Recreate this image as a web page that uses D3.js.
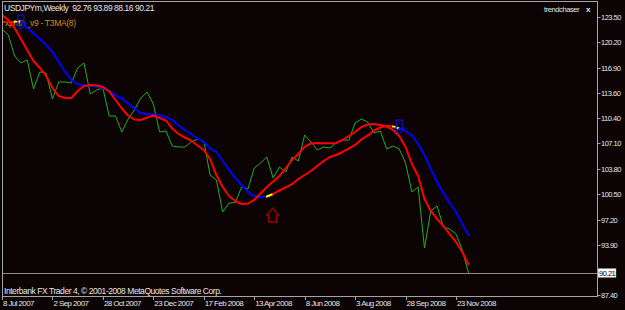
<!DOCTYPE html>
<html>
<head>
<meta charset="utf-8">
<script src="https://cdn.jsdelivr.net/npm/d3@7"></script>
<style>
  html, body { margin: 0; padding: 0; background: #0c0304; }
  text { font-family: "Liberation Sans", Arial, sans-serif; white-space: pre; }
</style>
</head>
<body>
<div id="chart"></div>
<script>
// weekly bars, first visible bar
var firstWeek = "2007-07-08";

// weekly close (green)
var closes = [
  121.94, 121.16, 118.44, 117.53, 117.92, 114.15, 116.36, 116.20, 112.85, 115.06,
  115.06, 114.93, 116.88, 117.53, 113.50, 114.02, 114.28, 110.64, 110.64, 108.57,
  110.25, 111.42, 112.98, 113.76, 112.20, 108.57, 108.70, 106.75, 106.62, 106.62,
  107.27, 107.66, 107.40, 102.98, 102.33, 98.18, 99.35, 99.40, 101.42, 101.16,
  103.89, 104.54, 105.32, 102.59, 104.02, 103.37, 105.32, 104.80, 108.18, 107.27,
  106.23, 106.62, 106.49, 107.14, 107.53, 107.50, 109.74, 110.25, 109.86, 108.44,
  108.70, 106.36, 106.75, 106.36, 104.54, 100.78, 101.42, 93.50, 98.31, 98.96,
  96.23, 95.97, 95.32, 93.24, 90.21
];

// fast T3MA (red)
var fastMA = [
  123.76, 123.11, 122.07, 120.64, 119.21, 117.79, 116.88, 115.84, 114.28, 113.24,
  112.98, 112.98, 113.89, 114.54, 114.67, 114.60, 114.41, 113.83, 112.72, 111.62,
  110.71, 110.19, 110.12, 110.45, 110.71, 110.38, 110.06, 109.02, 108.31, 107.85,
  107.46, 106.81, 106.23, 105.06, 102.98, 101.42, 100.26, 99.61, 99.22, 99.28,
  99.74, 100.58, 101.42, 102.14, 102.85, 103.89, 104.93, 105.71, 106.68, 107.07,
  107.14, 107.10, 107.10, 107.14, 107.53, 108.05, 108.57, 109.22, 109.54, 109.61,
  109.48, 109.28, 108.83, 108.05, 106.62, 104.41, 102.85, 99.87, 98.31, 97.27,
  96.36, 95.32, 94.28, 92.98, 91.30
];

// slow xpMA (blue falling / red rising)
var slowMA = [
  122.85, 122.85, 122.85, 122.90, 122.07, 121.36, 120.64, 119.86, 118.95, 117.66,
  116.36, 115.32, 114.80, 114.60, 114.54, 114.47, 114.28, 113.89, 113.31, 112.92,
  112.27, 111.62, 111.03, 110.90, 110.84, 110.77, 110.51, 110.12, 109.41, 108.83,
  108.31, 107.72, 107.27, 106.42, 105.97, 104.80, 103.63, 102.59, 101.68, 100.77,
  100.26, 100.09, 100.19, 100.52, 100.97, 101.36, 101.81, 102.46, 102.98, 103.50,
  104.15, 104.80, 105.32, 105.58, 105.97, 106.42, 106.88, 107.59, 108.11, 108.76,
  109.15, 109.35, 109.28, 109.02, 108.70, 108.11, 107.01, 105.58, 103.76, 102.07,
  100.65, 99.35, 98.18, 96.62, 95.19
];

// trend switches on the slow line (week index, new trend)
var switchWeeks = [3, 43, 63];
var switchTrend = ["down", "up", "down"];

// arrows
var sellWeeks = [3, 63];
var sellPrices = [123.76, 110.12];
var buyWeeks = [43];
var buyPrices = [98.70];

var priceTicks = [123.50, 120.20, 116.90, 113.60, 110.40, 107.10, 103.80, 100.50, 97.20, 93.90, 87.40];
var dateTicks = ["2007-07-08", "2007-09-02", "2007-10-28", "2007-12-23", "2008-02-17",
                 "2008-04-13", "2008-06-08", "2008-08-03", "2008-09-28", "2008-11-23"];
var lastPrice = 90.21;

var width = 625, height = 310;
var plotL = 2, plotR = 597, plotT = 1, plotB = 296;
var bg = "#0c0304";
var frameColor = "#a4a4a4";
var textColor = "#e6e6e6";

var parse = d3.utcParse("%Y-%m-%d");
var start = parse(firstWeek);
var weeks = closes.map(function(d, i){ return d3.utcWeek.offset(start, i); });

var x = d3.scaleUtc()
    .domain([start, parse("2008-11-23")])
    .range([2, 456]);
var y = d3.scaleLinear()
    .domain([87.4, 123.5])
    .range([295, 17]);

var svg = d3.select("#chart").append("svg")
    .attr("width", width)
    .attr("height", height);

svg.append("rect")
    .attr("width", width).attr("height", height)
    .attr("fill", bg);

svg.append("clipPath").attr("id", "clip")
    .append("rect")
    .attr("x", plotL).attr("y", plotT)
    .attr("width", plotR - plotL).attr("height", plotB - plotT);

// header texts
svg.append("text")
    .attr("x", 4).attr("y", 11)
    .attr("fill", textColor)
    .attr("font-size", 8.5)
    .attr("letter-spacing", -0.45)
    .text("USDJPYm,Weekly  92.76 93.89 88.16 90.21");

svg.append("text")
    .attr("x", 5).attr("y", 26)
    .attr("fill", "#c8901c")
    .attr("font-size", 8.5)
    .attr("letter-spacing", -0.3)
    .text("xpMA_v9 - T3MA(8)");

svg.append("text")
    .attr("x", 544).attr("y", 12)
    .attr("fill", textColor)
    .attr("font-size", 7.5)
    .attr("letter-spacing", -0.4)
    .text("trendchaser");
svg.append("text")
    .attr("x", 586).attr("y", 12)
    .attr("fill", textColor)
    .attr("font-size", 8)
    .attr("font-weight", "bold")
    .text("x");

svg.append("text")
    .attr("x", 4).attr("y", 294)
    .attr("fill", textColor)
    .attr("font-size", 8.5)
    .attr("letter-spacing", -0.45)
    .text("Interbank FX Trader 4, \u00a9 2001-2008 MetaQuotes Software Corp.");

// last price line
svg.append("line")
    .attr("x1", plotL).attr("x2", plotR)
    .attr("y1", Math.round(y(lastPrice)) + 0.5)
    .attr("y2", Math.round(y(lastPrice)) + 0.5)
    .attr("stroke", "#8c8c8c")
    .attr("stroke-width", 1);

var g = svg.append("g").attr("clip-path", "url(#clip)");

var line = d3.line()
    .x(function(d){ return x(d.date); })
    .y(function(d){ return y(d.v); });

function series(arr){
    return arr.map(function(v, i){ return {date: weeks[i], v: v}; });
}

// green close
g.append("path")
    .datum(series(closes))
    .attr("d", line)
    .attr("fill", "none")
    .attr("stroke", "#1fb01f")
    .attr("stroke-width", 1);

// slow line split into coloured segments
var slowPts = series(slowMA);
var segs = [];
var trend = "up";
for (var i = 1; i < slowPts.length; i++) {
    var k = switchWeeks.indexOf(i);
    var col;
    if (k >= 0) {
        col = "#ffff00";
        trend = switchTrend[k];
    } else {
        col = trend == "down" ? "#0000ff" : "#ff0000";
    }
    segs.push({pts: [slowPts[i - 1], slowPts[i]], color: col});
}
g.append("g").selectAll("path")
    .data(segs)
    .enter()
    .append("path")
    .attr("d", function(d){ return line(d.pts); })
    .attr("fill", "none")
    .attr("stroke", function(d){ return d.color; })
    .attr("stroke-width", 2)
    .attr("stroke-linecap", "round");

// fast red
g.append("path")
    .datum(series(fastMA))
    .attr("d", line)
    .attr("fill", "none")
    .attr("stroke", "#ff0000")
    .attr("stroke-width", 2)
    .attr("stroke-linejoin", "round");

// sell arrows (hollow, pointing down)
g.append("g").selectAll("path")
    .data(sellWeeks)
    .enter()
    .append("path")
    .attr("d", function(d, i){
        var cx = x(weeks[d]), t = y(sellPrices[i]);
        return "M" + (cx - 3) + "," + t + "H" + (cx + 3) + "V" + (t + 8) +
               "H" + (cx + 5) + "L" + cx + "," + (t + 14) + "L" + (cx - 5) + "," + (t + 8) +
               "H" + (cx - 3) + "Z";
    })
    .attr("fill", "none")
    .attr("stroke", "#1010d0")
    .attr("stroke-width", 1.2);

// buy arrows (hollow, pointing up)
g.append("g").selectAll("path")
    .data(buyWeeks)
    .enter()
    .append("path")
    .attr("d", function(d, i){
        var cx = x(weeks[d]) - 0.5, t = y(buyPrices[i]);
        return "M" + cx + "," + t + "L" + (cx + 6) + "," + (t + 7) + "H" + (cx + 4) +
               "V" + (t + 14) + "H" + (cx - 4) + "V" + (t + 7) + "H" + (cx - 6) + "Z";
    })
    .attr("fill", "none")
    .attr("stroke", "#a00000")
    .attr("stroke-width", 1.3);

// frame
svg.append("rect")
    .attr("x", plotL + 0.5).attr("y", plotT + 0.5)
    .attr("width", plotR - plotL).attr("height", plotB - plotT)
    .attr("fill", "none")
    .attr("stroke", frameColor)
    .attr("stroke-width", 1);

// right price axis
var yAxis = svg.append("g");
yAxis.selectAll("line")
    .data(priceTicks)
    .enter()
    .append("line")
    .attr("x1", plotR + 0.5).attr("x2", plotR + 3.5)
    .attr("y1", function(d){ return Math.round(y(d)) + 0.5; })
    .attr("y2", function(d){ return Math.round(y(d)) + 0.5; })
    .attr("stroke", frameColor);
yAxis.selectAll("text")
    .data(priceTicks)
    .enter()
    .append("text")
    .attr("x", 601)
    .attr("y", function(d){ return y(d) + 3; })
    .attr("fill", textColor)
    .attr("font-size", 7.5)
    .attr("letter-spacing", -0.5)
    .text(function(d){ return d.toFixed(2); });

// last price label box
var ly = Math.round(y(lastPrice));
svg.append("rect")
    .attr("x", 598).attr("y", ly - 4.5)
    .attr("width", 18).attr("height", 9)
    .attr("fill", "#ffffff")
    .attr("stroke", "#808080")
    .attr("stroke-width", 0.5);
svg.append("text")
    .attr("x", 599).attr("y", ly + 3)
    .attr("fill", "#000000")
    .attr("font-size", 7.5)
    .attr("letter-spacing", -0.5)
    .text(lastPrice.toFixed(2));

// bottom date axis
var fmt = d3.utcFormat("%-d %b %Y");
var xTicks = dateTicks.map(parse);
var xAxis = svg.append("g");
xAxis.selectAll("line")
    .data(xTicks)
    .enter()
    .append("line")
    .attr("x1", function(d){ return Math.round(x(d)) + 0.5; })
    .attr("x2", function(d){ return Math.round(x(d)) + 0.5; })
    .attr("y1", plotB + 0.5).attr("y2", plotB + 4)
    .attr("stroke", frameColor);
xAxis.selectAll("text")
    .data(xTicks)
    .enter()
    .append("text")
    .attr("x", function(d){ return x(d) + 1; })
    .attr("y", 306)
    .attr("fill", textColor)
    .attr("font-size", 8)
    .attr("letter-spacing", -0.6)
    .text(function(d){ return fmt(d); });
</script>
</body>
</html>
